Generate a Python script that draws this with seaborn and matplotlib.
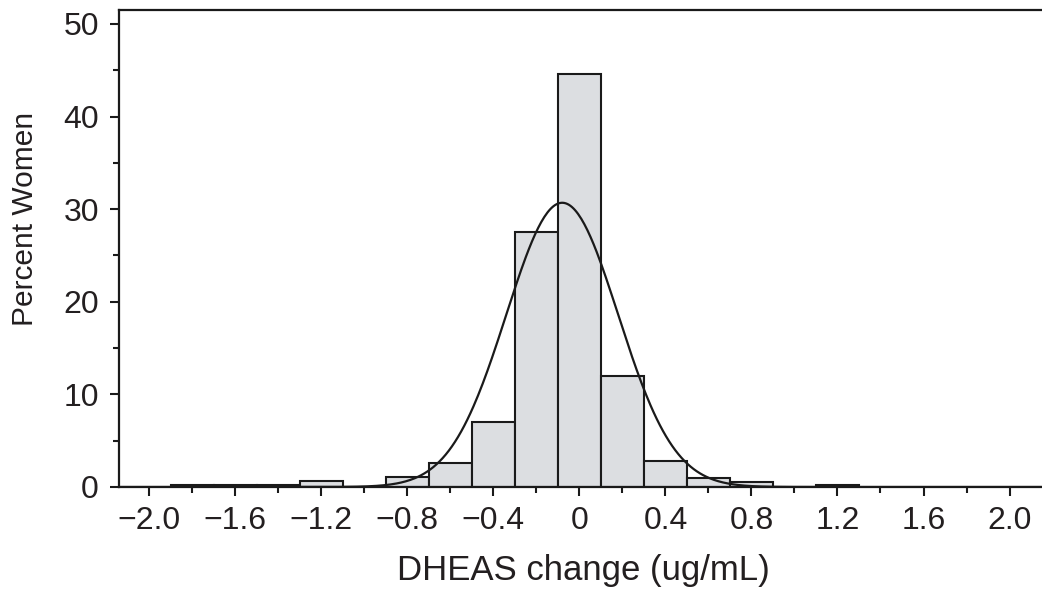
import numpy as np
import pandas as pd
import matplotlib
matplotlib.use("Agg")
import matplotlib.pyplot as plt
import seaborn as sns
from matplotlib.ticker import MultipleLocator, FixedLocator

# ---- data ----
bin_edges = [-1.9, -1.7, -1.5, -1.3, -1.1, -0.9, -0.7, -0.5, -0.3, -0.1,
             0.1, 0.3, 0.5, 0.7, 0.9, 1.1, 1.3]
bin_percent = [0.2, 0.2, 0.2, 0.6, 0.0, 1.1, 2.6, 7.0, 27.5, 44.6,
               12.0, 2.8, 1.0, 0.55, 0.0, 0.2]
fit_mean = -0.08      # fitted normal curve
fit_sd = 0.26
x_ticks = [-2.0, -1.6, -1.2, -0.8, -0.4, 0.0, 0.4, 0.8, 1.2, 1.6, 2.0]
x_ticklabels = ["\u22122.0", "\u22121.6", "\u22121.2", "\u22120.8", "\u22120.4",
                "0", "0.4", "0.8", "1.2", "1.6", "2.0"]
y_ticks = [0, 10, 20, 30, 40, 50]
x_label = "DHEAS change (ug/mL)"
y_label = "Percent Women"

sns.set_theme(style="white")
plt.rcParams["font.family"] = ["Liberation Sans", "DejaVu Sans"]
text_color = "#231f20"
ink = "#1a1a1a"

centers = [(bin_edges[i] + bin_edges[i + 1]) / 2 for i in range(len(bin_percent))]
df = pd.DataFrame({"x": centers, "pct": bin_percent})
bw = bin_edges[1] - bin_edges[0]
xs = np.linspace(-2.14, 2.15, 600)
curve = pd.DataFrame({"x": xs,
                      "y": 100 * bw * np.exp(-0.5 * ((xs - fit_mean) / fit_sd) ** 2)
                      / (fit_sd * np.sqrt(2 * np.pi))})

fig = plt.figure(figsize=(10.42, 5.94), dpi=100)
ax = fig.add_axes([119 / 1042, 1 - 487 / 594, 923 / 1042, 477 / 594])

sns.histplot(data=df, x="x", weights="pct", bins=bin_edges, stat="count",
             color="#dcdee1", edgecolor=ink, linewidth=1.5, alpha=1,
             ax=ax)
sns.lineplot(data=curve, x="x", y="y", color=ink, linewidth=1.6, ax=ax)

ax.set_xlim(-2.141, 2.151)
ax.set_ylim(0, 51.5)
ax.xaxis.set_major_locator(FixedLocator(x_ticks))
ax.set_xticklabels(x_ticklabels)
ax.xaxis.set_minor_locator(MultipleLocator(0.2))
ax.yaxis.set_major_locator(FixedLocator(y_ticks))
ax.yaxis.set_minor_locator(MultipleLocator(5))

for s in ["left", "bottom", "top"]:
    ax.spines[s].set_visible(True)
    ax.spines[s].set_color(ink)
    ax.spines[s].set_linewidth(1.6)
ax.spines["right"].set_visible(False)

ax.tick_params(which="major", direction="out", length=6.5, width=1.5,
               color=ink, labelsize=23, labelcolor=text_color,
               bottom=True, left=True, top=False, right=False)
ax.tick_params(axis="x", which="major", pad=7)
ax.tick_params(axis="y", which="major", pad=8)
ax.tick_params(which="minor", direction="out", length=4, width=1.5,
               color=ink, bottom=True, left=True, top=False, right=False)

ax.set_xlabel(x_label, fontsize=25, color=text_color)
ax.set_ylabel(y_label, fontsize=21.5, color=text_color)
ax.xaxis.set_label_coords(0.503, -0.14)
ax.yaxis.label.set_verticalalignment("center")
ax.yaxis.label.set_rotation_mode("default")
ax.yaxis.set_label_coords(-0.102, 0.563)

fig.savefig("out.png", dpi=100, facecolor="white")
